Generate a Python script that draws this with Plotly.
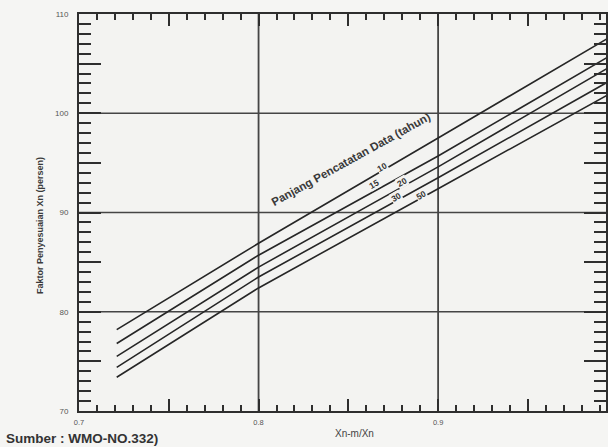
import plotly.graph_objects as go

# Data
x_pts = [0.721, 0.8, 0.9, 0.994]
record_lengths = ["10", "15", "20", "30", "50"]
y_10 = [78.2, 86.9, 97.5, 107.5]
y_15 = [76.8, 85.7, 95.7, 105.6]
y_20 = [75.5, 84.5, 94.6, 104.5]
y_30 = [74.4, 83.5, 93.5, 103.1]
y_50 = [73.4, 82.4, 92.4, 101.8]
series = [y_10, y_15, y_20, y_30, y_50]

label_x = [0.8689, 0.8644, 0.8800, 0.8767, 0.8906]
label_y = [94.6, 92.9, 93.1, 91.6, 91.8]

x_tickvals = [0.7, 0.75, 0.8, 0.85, 0.9, 0.95]
x_ticktext = ["0.7", "", "0.8", "", "0.9", ""]
y_tickvals = [70, 75, 80, 85, 90, 95, 100, 105, 110]
y_ticktext = ["70", "", "80", "", "90", "", "100", "", "110"]

BG = "#f3f3f1"
INK = "#2e2e2e"
FONT = "Liberation Sans"

fig = go.Figure()
for ys in series:
    fig.add_trace(go.Scatter(x=x_pts, y=ys, mode="lines",
                             line=dict(color="#262626", width=1.6),
                             showlegend=False, hoverinfo="skip"))

for gx in [0.8, 0.9]:
    fig.add_vline(x=gx, line=dict(color="#454545", width=1.8), layer="below")
for gy in [80, 90, 100]:
    fig.add_hline(y=gy, line=dict(color="#454545", width=1.6), layer="below")

for lx, ly, t in zip(label_x, label_y, record_lengths):
    fig.add_annotation(x=lx, y=ly, text="<b>" + t + "</b>", showarrow=False,
                       textangle=-30, font=dict(size=8.5, color="#333", family=FONT),
                       bgcolor=BG, borderpad=0)

fig.add_annotation(x=0.8517, y=95.4, text="<b>Panjang Pencatatan Data (tahun)</b>",
                   showarrow=False, textangle=-29,
                   font=dict(size=11.5, color="#3a3a3a", family=FONT))

fig.add_annotation(xref="paper", yref="paper", x=0.5236, y=-0.056,
                   xanchor="center", yanchor="middle",
                   text="Xn-m/Xn", showarrow=False,
                   font=dict(size=10, color="#444", family=FONT))
fig.add_annotation(xref="paper", yref="paper", x=-0.074, y=0.466,
                   xanchor="center", yanchor="middle",
                   text="<b>Faktor Penyesuaian Xn (persen)</b>", showarrow=False, textangle=-90,
                   font=dict(size=9, color="#3a3a3a", family=FONT))
fig.add_annotation(xref="paper", yref="paper", x=-0.142, y=-0.069,
                   xanchor="left", yanchor="middle",
                   text="<b>Sumber : WMO-NO.332)</b>", showarrow=False,
                   font=dict(size=13.5, color="#333", family=FONT))

fig.update_xaxes(range=[0.7, 0.9935], showgrid=False, zeroline=False,
                 showline=True, linecolor=INK, linewidth=2, mirror="ticks",
                 ticks="inside", ticklen=12, tickwidth=2, tickcolor=INK,
                 tickvals=x_tickvals, ticktext=x_ticktext,
                 tickfont=dict(size=7.5, color="#555", family=FONT),
                 ticklabelstandoff=3,
                 minor=dict(dtick=0.01, tick0=0.7, ticks="inside", ticklen=6,
                            tickwidth=2, tickcolor=INK, showgrid=False))
fig.update_yaxes(range=[70, 110], showgrid=False, zeroline=False,
                 showline=True, linecolor=INK, linewidth=2, mirror="ticks",
                 ticks="inside", ticklen=22, tickwidth=1.6, tickcolor=INK,
                 tickvals=y_tickvals, ticktext=y_ticktext,
                 tickfont=dict(size=8, color="#555", family=FONT),
                 ticklabelstandoff=7,
                 minor=dict(dtick=1, tick0=70, ticks="inside", ticklen=12,
                            tickwidth=1.6, tickcolor=INK, showgrid=False))

fig.update_layout(width=608, height=447,
                  margin=dict(l=79, r=0, t=14, b=36),
                  paper_bgcolor="#f5f5f3", plot_bgcolor=BG,
                  showlegend=False)

fig.write_html("out.html", config={"displayModeBar": False},
               post_script="document.body.style.margin='0';document.body.style.overflow='hidden';")
